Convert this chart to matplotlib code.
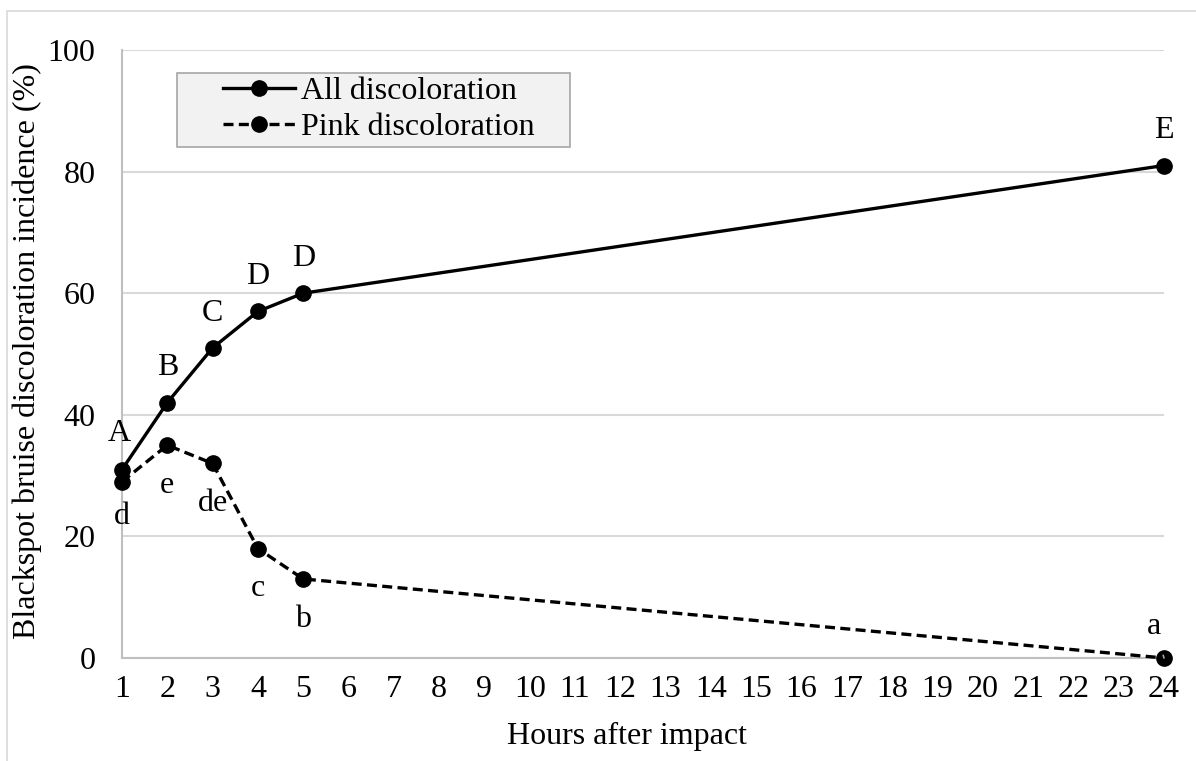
import matplotlib.pyplot as plt
from matplotlib.patches import Rectangle

plt.rcParams['font.family'] = ['Liberation Serif', 'DejaVu Serif']

# --- Data ---
hours = [1, 2, 3, 4, 5, 24]
all_disc = [31, 42, 51, 57, 60, 81]
pink_disc = [29, 35, 32, 18, 13, 0]
all_letters = ['A', 'B', 'C', 'D', 'D', 'E']
pink_letters = ['d', 'e', 'de', 'c', 'b', 'a']
x_ticks = list(range(1, 25))
y_ticks = [0, 20, 40, 60, 80, 100]

FS = 23
W, H = 1196, 761

fig = plt.figure(figsize=(W / 100, H / 100), dpi=100)
ax = fig.add_axes([122 / W, 1 - 658 / H, (1164 - 122) / W, (658 - 50) / H])

# outer chart border (light gray)
fig.patches.append(Rectangle((7 / W, -0.01), 1.02, 1 - 11 / H + 0.01,
                             transform=fig.transFigure, fill=False,
                             edgecolor='#d9d9d9', linewidth=1.2))

ax.plot(hours, all_disc, color='black', linestyle='-', linewidth=2.4,
        marker='o', markersize=11, label='All discoloration', zorder=3,
        clip_on=False)
ax.plot(hours, pink_disc, color='black', linestyle=(0, (3, 1.6)), linewidth=2.4,
        marker='o', markersize=11, label='Pink discoloration', zorder=3,
        clip_on=False)

# letter labels
all_offsets = [(-2, 26), (0, 25), (0, 25), (0, 25), (0, 25), (0, 25)]
for x, y, t, off in zip(hours, all_disc, all_letters, all_offsets):
    ax.annotate(t, (x, y), xytext=off, textcoords='offset points',
                ha='center', va='center', fontsize=FS)

pink_offsets = [(0, -25), (0, -29), (0, -29), (0, -29), (0, -29)]
for x, y, t, off in zip(hours[:-1], pink_disc[:-1], pink_letters[:-1], pink_offsets):
    ax.annotate(t, (x, y), xytext=off, textcoords='offset points',
                ha='center', va='center', fontsize=FS)
# last one with a leader line
ax.annotate(pink_letters[-1], (hours[-1], pink_disc[-1]), xytext=(-7, 23),
            textcoords='offset points', ha='center', va='center', fontsize=FS,
            arrowprops=dict(arrowstyle='-', color='#a6a6a6', lw=1.2,
                            shrinkA=9, shrinkB=0))

ax.set_xlim(1, 24)
ax.set_ylim(0, 100)
ax.set_xticks(x_ticks)
ax.set_yticks(y_ticks)
ax.tick_params(axis='both', length=0, labelsize=FS)
ax.tick_params(axis='x', pad=12)
ax.tick_params(axis='y', pad=19)

ax.grid(axis='y', color='#d9d9d9', linewidth=1.5)
ax.set_axisbelow(True)
for s in ['top', 'right']:
    ax.spines[s].set_visible(False)
for s in ['left', 'bottom']:
    ax.spines[s].set_color('#bfbfbf')
    ax.spines[s].set_linewidth(1.5)

ax.set_xlabel('Hours after impact', fontsize=FS)
ax.xaxis.set_label_coords((627 - 122) / 1042, -(722 - 658) / 608)
ax.set_ylabel('Blackspot bruise discoloration incidence (%)', fontsize=FS)
ax.yaxis.set_label_coords(-(122 - 42) / 1042, 0.505)

# legend box (gray fill) + legend entries
box = Rectangle((177 / W, 1 - 147 / H), (570 - 177) / W, (147 - 73) / H,
                transform=fig.transFigure, facecolor='#f2f2f2',
                edgecolor='#a6a6a6', linewidth=1.2, zorder=5, clip_on=False)
ax.add_patch(box)
leg = ax.legend(loc='upper left', bbox_to_anchor=(223 / W, 1 - 77 / H),
                bbox_transform=fig.transFigure, fontsize=FS, frameon=False,
                handlelength=2.25, handletextpad=0.2, borderpad=0,
                labelspacing=0.2, borderaxespad=0)
leg.set_zorder(6)

fig.savefig('out.png', dpi=100)
